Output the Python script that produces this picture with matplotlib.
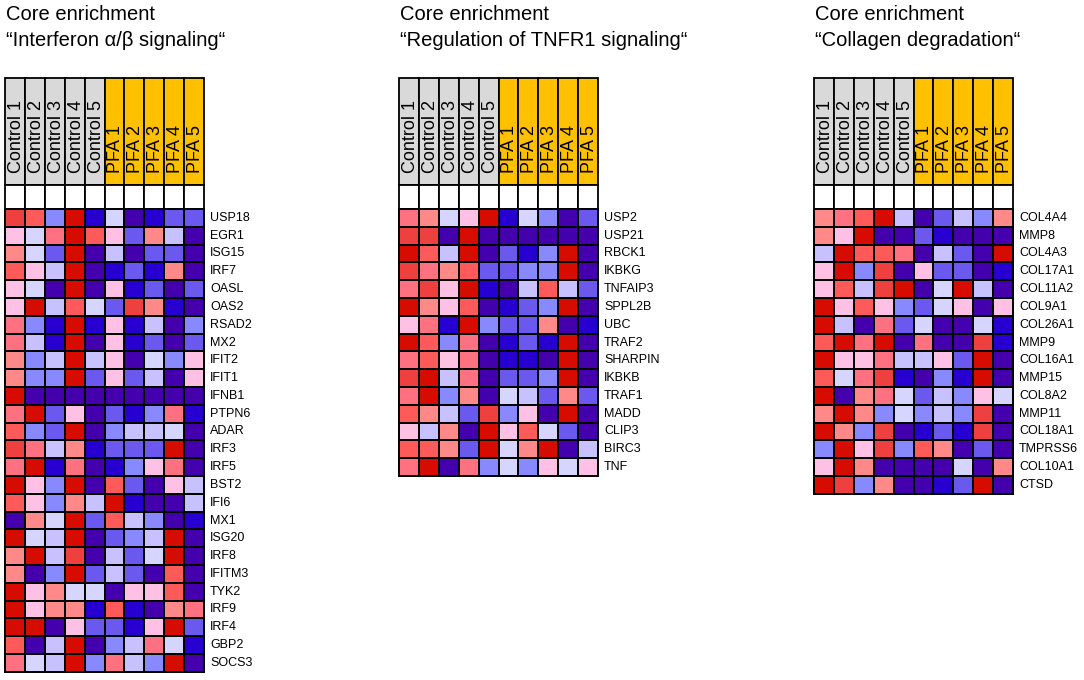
import numpy as np
import matplotlib
matplotlib.use("Agg")
import matplotlib.pyplot as plt
from matplotlib.colors import ListedColormap, BoundaryNorm

plt.rcParams['font.family'] = ['Liberation Sans', 'DejaVu Sans']

# GSEA-style colour ramp, low (blue) to high (red)
gsea_colors = ["#4500AD", "#2700D1", "#6B58EF", "#8888FF", "#C7C1FF", "#D5D5FF",
               "#FFC0E5", "#FF8989", "#FF7080", "#FF5A5A", "#EF4040", "#D60C00"]
cmap = ListedColormap(gsea_colors)
norm = BoundaryNorm(np.arange(-0.5, 12.5, 1), cmap.N)

samples = ["Control 1", "Control 2", "Control 3", "Control 4", "Control 5",
           "PFA 1", "PFA 2", "PFA 3", "PFA 4", "PFA 5"]
groups = ["Control"] * 5 + ["PFA"] * 5

# Interferon alpha/beta signalling
genes_ifn = ["USP18", "EGR1", "ISG15", "IRF7", "OASL", "OAS2", "RSAD2", "MX2", "IFIT2",
             "IFIT1", "IFNB1", "PTPN6", "ADAR", "IRF3", "IRF5", "BST2", "IFI6", "MX1",
             "ISG20", "IRF8", "IFITM3", "TYK2", "IRF9", "IRF4", "GBP2", "SOCS3"]
levels_ifn = [
    [10, 9, 3, 11, 1, 5, 0, 1, 2, 2],
    [6, 5, 8, 11, 9, 6, 2, 7, 4, 0],
    [7, 5, 2, 11, 0, 4, 0, 2, 2, 0],
    [9, 6, 4, 11, 0, 1, 2, 1, 7, 0],
    [6, 5, 0, 11, 0, 6, 1, 2, 0, 2],
    [6, 11, 4, 9, 5, 2, 10, 7, 1, 0],
    [8, 3, 1, 11, 1, 6, 1, 4, 0, 3],
    [8, 4, 1, 11, 0, 6, 1, 2, 0, 2],
    [7, 3, 4, 11, 4, 6, 0, 5, 3, 6],
    [7, 3, 3, 11, 2, 6, 2, 4, 0, 6],
    [11, 0, 0, 0, 0, 0, 0, 0, 0, 0],
    [8, 11, 2, 6, 0, 2, 1, 3, 8, 1],
    [9, 3, 2, 11, 0, 3, 4, 4, 5, 0],
    [10, 8, 4, 7, 1, 2, 2, 2, 11, 0],
    [8, 11, 1, 8, 0, 1, 3, 6, 8, 0],
    [11, 6, 3, 11, 0, 9, 2, 0, 6, 4],
    [9, 6, 3, 7, 4, 11, 1, 0, 0, 4],
    [0, 7, 5, 11, 2, 9, 4, 3, 0, 1],
    [11, 5, 4, 11, 0, 2, 3, 4, 11, 0],
    [7, 11, 4, 10, 0, 4, 2, 5, 11, 0],
    [7, 0, 3, 11, 2, 4, 2, 0, 9, 0],
    [11, 6, 7, 5, 5, 0, 6, 6, 9, 0],
    [11, 6, 7, 7, 1, 9, 1, 0, 7, 8],
    [11, 11, 0, 6, 2, 2, 1, 6, 11, 2],
    [9, 0, 4, 11, 0, 3, 4, 8, 5, 1],
    [8, 5, 4, 11, 3, 8, 4, 3, 11, 0],
]

# Regulation of TNFR1 signalling
genes_tnf = ["USP2", "USP21", "RBCK1", "IKBKG", "TNFAIP3", "SPPL2B", "UBC", "TRAF2",
             "SHARPIN", "IKBKB", "TRAF1", "MADD", "CLIP3", "BIRC3", "TNF"]
levels_tnf = [
    [8, 7, 5, 6, 11, 1, 5, 3, 0, 2],
    [10, 10, 0, 11, 0, 0, 0, 0, 0, 0],
    [11, 9, 4, 11, 0, 2, 1, 3, 11, 0],
    [10, 8, 7, 9, 2, 2, 3, 3, 11, 0],
    [8, 10, 6, 11, 1, 0, 4, 9, 4, 2],
    [11, 7, 6, 9, 0, 1, 2, 3, 11, 0],
    [6, 8, 1, 11, 3, 2, 2, 7, 0, 1],
    [11, 9, 3, 8, 0, 1, 2, 1, 11, 0],
    [8, 9, 6, 8, 0, 1, 1, 0, 11, 0],
    [10, 11, 4, 8, 0, 2, 2, 3, 11, 0],
    [8, 11, 3, 7, 0, 5, 4, 2, 7, 2],
    [9, 7, 4, 2, 10, 3, 6, 0, 11, 0],
    [6, 4, 7, 0, 11, 6, 9, 5, 2, 0],
    [9, 9, 7, 2, 11, 5, 7, 11, 0, 4],
    [8, 11, 0, 8, 3, 5, 3, 6, 5, 6],
]

# Collagen degradation
genes_col = ["COL4A4", "MMP8", "COL4A3", "COL17A1", "COL11A2", "COL9A1", "COL26A1", "MMP9",
             "COL16A1", "MMP15", "COL8A2", "MMP11", "COL18A1", "TMPRSS6", "COL10A1", "CTSD"]
levels_col = [
    [7, 8, 9, 11, 4, 0, 2, 4, 3, 7],
    [7, 6, 11, 0, 0, 2, 1, 0, 0, 0],
    [4, 11, 9, 9, 8, 0, 4, 2, 0, 11],
    [6, 11, 3, 10, 0, 6, 2, 2, 0, 1],
    [6, 9, 4, 10, 11, 0, 5, 11, 4, 0],
    [11, 6, 9, 6, 3, 2, 5, 6, 0, 6],
    [11, 4, 0, 8, 2, 5, 0, 0, 5, 1],
    [9, 11, 8, 11, 0, 8, 0, 0, 10, 1],
    [11, 6, 6, 8, 4, 4, 6, 2, 11, 0],
    [9, 5, 8, 10, 1, 0, 3, 1, 11, 0],
    [11, 0, 7, 8, 5, 2, 4, 3, 6, 5],
    [7, 11, 7, 3, 5, 3, 4, 3, 10, 0],
    [11, 7, 3, 10, 0, 1, 2, 1, 10, 0],
    [3, 11, 6, 10, 3, 9, 7, 0, 2, 0],
    [6, 11, 7, 0, 0, 0, 0, 5, 0, 7],
    [11, 10, 3, 7, 0, 0, 1, 2, 11, 0],
]

panels = [
    ("\u201cInterferon \u03b1/\u03b2 signaling\u201c", genes_ifn, levels_ifn, 5),
    ("\u201cRegulation of TNFR1 signaling\u201c", genes_tnf, levels_tnf, 399),
    ("\u201cCollagen degradation\u201c", genes_col, levels_col, 814),
]

W, H = 1084, 680
fig = plt.figure(figsize=(W / 100, H / 100), dpi=100)
ax = fig.add_axes([0, 0, 1, 1])
ax.set_xlim(0, W)
ax.set_ylim(H, 0)
ax.axis("off")

cw, rh = 19.9, 17.8
head_top, head_bot, blank_bot = 78, 185, 209
group_fc = {"Control": "#D9D9D9", "PFA": "#FFC000"}

for title, genes, levels, x0 in panels:
    ax.text(x0 + 1, 14, "Core enrichment", fontsize=14.5, va="center", ha="left")
    ax.text(x0 + 1, 41, title, fontsize=14.5, va="center", ha="left")

    xe = x0 + cw * np.arange(len(samples) + 1)
    # header boxes with sample names
    for j, (s, g) in enumerate(zip(samples, groups)):
        ax.add_patch(plt.Rectangle((xe[j], head_top), cw, head_bot - head_top,
                                   facecolor=group_fc[g], edgecolor="black", lw=1.3))
        ax.add_patch(plt.Rectangle((xe[j], head_bot), cw, blank_bot - head_bot,
                                   facecolor="white", edgecolor="black", lw=1.3))
        ax.text(xe[j] + cw / 2 + 1.5, head_bot - 12, s, rotation=90, fontsize=13,
                ha="center", va="bottom")

    data = np.array(levels)
    ye = blank_bot + rh * np.arange(data.shape[0] + 1)
    ax.pcolormesh(xe, ye, data, cmap=cmap, norm=norm, edgecolors="black", linewidth=1.3)
    for i, gname in enumerate(genes):
        ax.text(xe[-1] + 6, ye[i] + rh / 2, gname, fontsize=9, va="center", ha="left")

fig.savefig("out.png", dpi=100)
